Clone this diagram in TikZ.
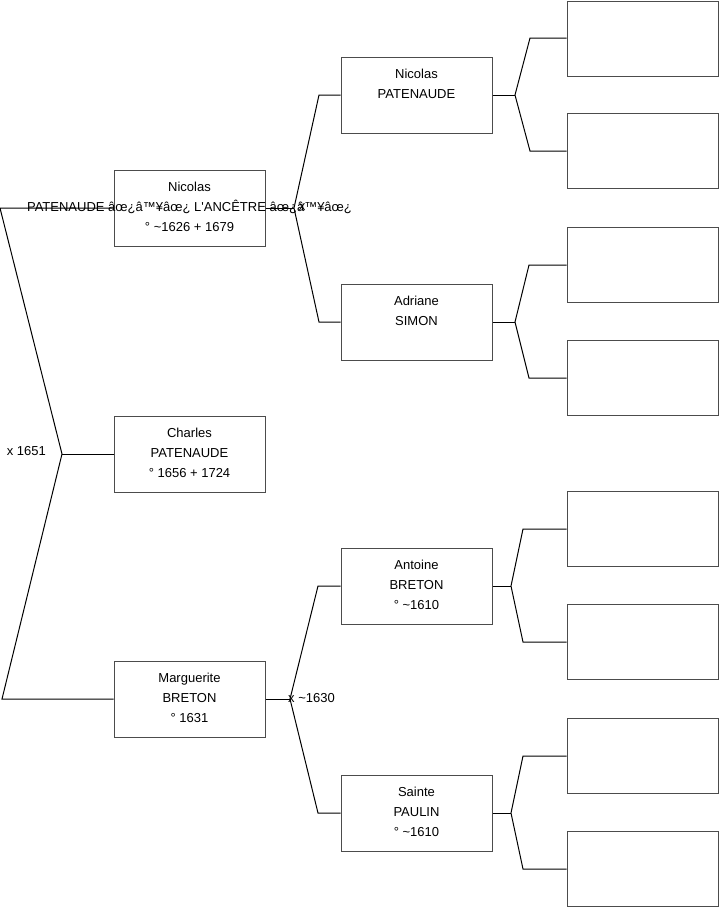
\documentclass[tikz,border=0pt]{standalone}
\usepackage{fontspec}
\setmainfont{Liberation Sans}
\begin{document}
\begin{tikzpicture}[x=1pt,y=-1pt,
  box/.style={draw=black!70, line width=1pt, minimum width=151pt, minimum height=76pt, inner sep=0pt},
  gbox/.style={box, minimum height=75pt},
  txt/.style={inner sep=0pt, align=center, anchor=north, font=\fontsize{13}{20}\selectfont},
  lbl/.style={inner sep=0pt, font=\fontsize{13}{15}\selectfont},
  con/.style={line width=1pt, black}]
\useasboundingbox (0,0) rectangle (719,908);
% generation 1
\node[box] (n1) at (189.5,208) {};
\node[txt] (n1t) at ([yshift=-12.3pt]n1.north) {Nicolas\\PATENAUDE âœ¿â™¥âœ¿ L\textquotesingle ANCÊTRE âœ¿â™¥âœ¿\\° \textasciitilde 1626 + 1679};
\node[box] (c) at (189.5,454) {};
\node[txt] (ct) at ([yshift=-12.3pt]c.north) {Charles\\PATENAUDE\\° 1656 + 1724};
\node[box] (m) at (189.5,699) {};
\node[txt] (mt) at ([yshift=-12.3pt]m.north) {Marguerite\\BRETON\\° 1631};
% generation 2
\node[box] (f1) at (416.5,95) {};
\node[txt] (f1t) at ([yshift=-12.3pt]f1.north) {Nicolas\\PATENAUDE};
\node[box] (m1) at (416.5,322) {};
\node[txt] (m1t) at ([yshift=-12.3pt]m1.north) {Adriane\\SIMON};
\node[box] (f2) at (416.5,586) {};
\node[txt] (f2t) at ([yshift=-12.3pt]f2.north) {Antoine\\BRETON\\° \textasciitilde 1610};
\node[box] (m2) at (416.5,813) {};
\node[txt] (m2t) at ([yshift=-12.3pt]m2.north) {Sainte\\PAULIN\\° \textasciitilde 1610};
% generation 3
\node[gbox] (g1) at (642.5,38.5) {};
\node[gbox] (g2) at (642.5,151) {};
\node[gbox] (g3) at (642.5,265) {};
\node[gbox] (g4) at (642.5,378) {};
\node[gbox] (g5) at (642.5,529) {};
\node[gbox] (g6) at (642.5,642) {};
\node[gbox] (g7) at (642.5,756) {};
\node[gbox] (g8) at (642.5,869) {};
% connectors gen1
\coordinate (L1) at (0,208);
\coordinate (Lf) at (62,454);
\coordinate (L3) at (2,699);
\draw[con] (n1.west) -- (L1) -- (Lf) -- (L3) -- (m.west);
\draw[con] (Lf) -- (c.west);
% connectors gen2
\coordinate (F1) at (294,208);
\coordinate (F1a) at (319,95);
\coordinate (F1b) at (319,322);
\draw[con] (n1.east) -- (F1);
\draw[con] (f1.west) -- (F1a) -- (F1) -- (F1b) -- (m1.west);
\coordinate (F2) at (290,699);
\coordinate (F2a) at (318,586);
\coordinate (F2b) at (318,813);
\draw[con] (m.east) -- (F2);
\draw[con] (f2.west) -- (F2a) -- (F2) -- (F2b) -- (m2.west);
% connectors gen3
\coordinate (G1) at (515,95);
\coordinate (G1a) at (530,38);
\coordinate (G1b) at (530,151);
\draw[con] (f1.east) -- (G1);
\draw[con] (g1.west |- G1a) -- (G1a) -- (G1) -- (G1b) -- (g2.west |- G1b);
\coordinate (G2) at (515,322);
\coordinate (G2a) at (529,265);
\coordinate (G2b) at (529,378);
\draw[con] (m1.east) -- (G2);
\draw[con] (g3.west |- G2a) -- (G2a) -- (G2) -- (G2b) -- (g4.west |- G2b);
\coordinate (G3) at (511,586);
\coordinate (G3a) at (523,529);
\coordinate (G3b) at (523,642);
\draw[con] (f2.east) -- (G3);
\draw[con] (g5.west |- G3a) -- (G3a) -- (G3) -- (G3b) -- (g6.west |- G3b);
\coordinate (G4) at (511,813);
\coordinate (G4a) at (523,756);
\coordinate (G4b) at (523,869);
\draw[con] (m2.east) -- (G4);
\draw[con] (g7.west |- G4a) -- (G4a) -- (G4) -- (G4b) -- (g8.west |- G4b);
% labels
\node[lbl, anchor=east] (x1) at (46,451) {x 1651};
\node[lbl, anchor=west] (x2) at (288,698) {x \textasciitilde 1630};
\node[lbl] (x3) at (302,207) {x};
\end{tikzpicture}
\end{document}
